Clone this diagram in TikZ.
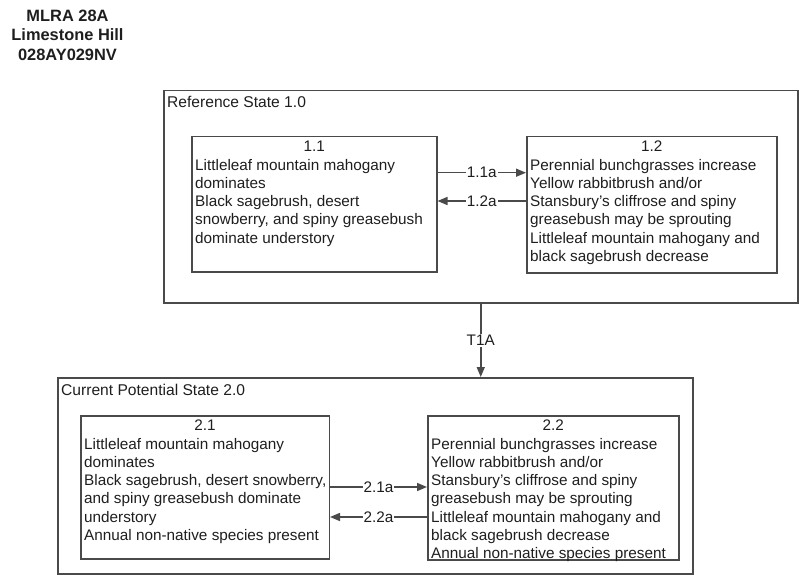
\documentclass[tikz,border=0pt]{standalone}
\usepackage{fontspec}
\setmainfont{Liberation Sans}
\usetikzlibrary{arrows.meta}
\definecolor{ln}{HTML}{4A4A4A}
\definecolor{tx}{HTML}{1E1E1E}
\tikzset{
  frame/.style={draw=ln,line width=1.5pt,anchor=north west,inner sep=0pt},
  body/.style={anchor=north west,inner sep=0pt,align=left,text=tx,font=\fontsize{15.3}{18.3}\selectfont},
  ttl/.style={anchor=base,inner sep=0pt,text=tx,font=\fontsize{15.3}{18.3}\selectfont},
  sttl/.style={anchor=base west,inner sep=0pt,text=tx,font=\fontsize{15.6}{18.3}\selectfont},
  lab/.style={fill=white,inner sep=1pt,text=tx,font=\fontsize{15.3}{18.3}\selectfont},
  arr/.style={draw=ln,line width=1.5pt,-{Triangle[length=10pt,width=8pt]}},
}
\begin{document}
\begin{tikzpicture}[x=1pt,y=-1pt]
\useasboundingbox (0,0) rectangle (800,575);
% header
\node[anchor=north,inner sep=0pt,align=center,text=tx,font=\bfseries\fontsize{16.4}{19.5}\selectfont] (hdr) at (67.5,7.4) {\strut MLRA 28A\\Limestone Hill\\028AY029NV};
% state 1
\node[frame,minimum width=634pt,minimum height=212pt] (o1) at (163,90) {};
\node[sttl] (o1t) at ([xshift=4pt,yshift=-18pt]o1.north west) {Reference State 1.0};
\node[frame,minimum width=245pt,minimum height=135pt] (b11) at (191,136) {};
\node[ttl] (b11t) at ([yshift=-15.5pt]b11.north) {1.1};
\node[body] (b11b) at ([xshift=4pt,yshift=-21pt]b11.north west) {\strut Littleleaf mountain mahogany\\dominates\\Black sagebrush, desert\\snowberry, and spiny greasebush\\dominate understory};
\node[frame,minimum width=250pt,minimum height=136pt] (b12) at (526,136) {};
\node[ttl] (b12t) at ([yshift=-15.5pt]b12.north) {1.2};
\node[body] (b12b) at ([xshift=4pt,yshift=-21pt]b12.north west) {\strut Perennial bunchgrasses increase\\Yellow rabbitbrush and/or\\Stansbury’s cliffrose and spiny\\greasebush may be sprouting\\Littleleaf mountain mahogany and\\black sagebrush decrease};
\draw[arr] ([yshift=-36.7pt]b11.north east) -- node[lab] (l11a) {1.1a} ([yshift=-36.7pt]b12.north west);
\draw[arr] ([yshift=-65pt]b12.north west) -- node[lab] (l12a) {1.2a} ([yshift=-65pt]b11.north east);
% state 2
\node[frame,minimum width=635pt,minimum height=196pt] (o2) at (57,377) {};
\node[sttl] (o2t) at ([xshift=4pt,yshift=-18pt]o2.north west) {Current Potential State 2.0};
\node[frame,minimum width=248.5pt,minimum height=143pt] (b21) at (80,415) {};
\node[ttl] (b21t) at ([yshift=-15.5pt]b21.north) {2.1};
\node[body] (b21b) at ([xshift=4pt,yshift=-21pt]b21.north west) {\strut Littleleaf mountain mahogany\\dominates\\Black sagebrush, desert snowberry,\\and spiny greasebush dominate\\understory\\Annual non-native species present};
\node[frame,minimum width=251pt,minimum height=144pt] (b22) at (427,415) {};
\node[ttl] (b22t) at ([yshift=-15.5pt]b22.north) {2.2};
\node[body] (b22b) at ([xshift=4pt,yshift=-21pt]b22.north west) {\strut Perennial bunchgrasses increase\\Yellow rabbitbrush and/or\\Stansbury’s cliffrose and spiny\\greasebush may be sprouting\\Littleleaf mountain mahogany and\\black sagebrush decrease\\Annual non-native species present};
\draw[arr] ([yshift=-72pt]b21.north east) -- node[lab] (l21a) {2.1a} ([yshift=-72pt]b22.north west);
\draw[arr] ([yshift=-102pt]b22.north west) -- node[lab] (l22a) {2.2a} ([yshift=-102pt]b21.north east);
% transition
\draw[arr] (o1.south) -- node[lab] (t1a) {T1A} (o1.south |- o2.north);
\end{tikzpicture}
\end{document}
